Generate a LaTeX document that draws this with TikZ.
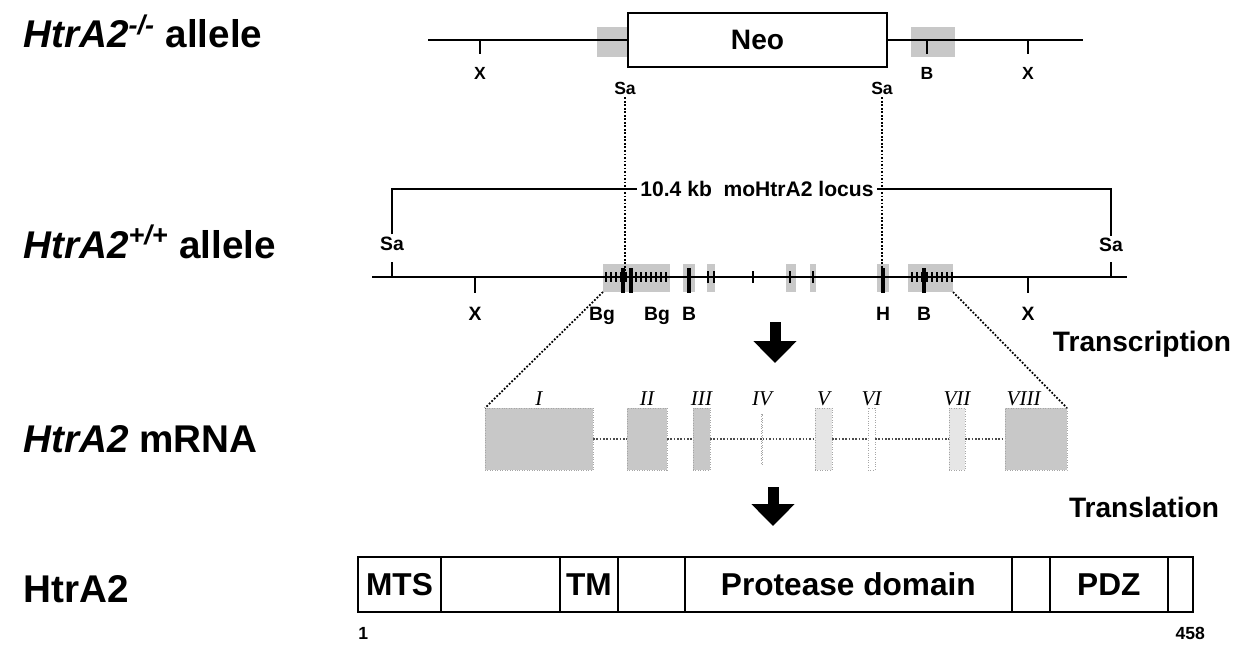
\documentclass[tikz,border=0pt]{standalone}
\usepackage{fontspec}
\setmainfont{Liberation Sans}
\newfontfamily\exonfont{Liberation Serif}
\usetikzlibrary{arrows.meta, positioning}
\definecolor{halftone}{RGB}{200,200,200}

\begin{document}
\begin{tikzpicture}[x=0.02cm, y=-0.02cm,
  rowlbl/.style={font=\fontsize{22}{26}\selectfont\bfseries, anchor=base west, inner sep=0pt},
  steplbl/.style={font=\fontsize{16}{19}\selectfont\bfseries, inner sep=0pt},
  site/.style={font=\fontsize{10}{12}\selectfont\bfseries, inner sep=1pt, anchor=base},
  sitebig/.style={font=\fontsize{11}{13}\selectfont\bfseries, inner sep=1pt, anchor=base},
  dna/.style={line width=1.1pt},
  cut/.style={line width=1pt},
  bar/.style={line width=1.8pt},
  halo/.style={fill=halftone},
  guide/.style={densely dotted, line width=1pt},
  exon/.style={draw=gray!70, densely dotted, fill=halftone, minimum height=1.24cm,
    inner sep=0pt, outer sep=0pt, label distance=3pt},
  faint/.style={exon, fill=halftone!45},
  numeral/.style={font=\exonfont\itshape\fontsize{12}{14}\selectfont, inner sep=1pt},
  intron/.style={densely dotted, line width=0.9pt, gray!60!black},
  dom/.style={draw, line width=1.1pt, minimum height=1.1cm, inner sep=0pt, outer sep=0pt,
    font=\fontsize{18}{21}\selectfont\bfseries},
  flow/.style={-{Triangle[width=0.84cm, length=0.44cm]}, line width=0.22cm}
]
\useasboundingbox (0,0) rectangle (1255,652);

% row labels
\node[rowlbl] (lko)   at (23,48)  {\textit{HtrA2\textsuperscript{-/-}} allele};
\node[rowlbl] (lwt)   at (23,258) {\textit{HtrA2\textsuperscript{+/+}} allele};
\node[rowlbl] (lmrna) at (23,452) {\textit{HtrA2} mRNA};
\node[rowlbl] (lprot) at (23,602) {HtrA2};

% knockout allele
\fill[halo] (597,27) rectangle (628,57);
\fill[halo] (911,27) rectangle (955,57);
\coordinate (koL) at (428,40);
\coordinate (koR) at (1083,40);
\node[draw, line width=1.1pt, fill=white, minimum width=5.18cm, minimum height=1.08cm,
  font=\fontsize{16}{19}\selectfont\bfseries] (neo) at (757.5,40) {Neo};
\draw[dna] (koL) -- (neo.west);
\draw[dna] (neo.east) -- (koR);
\foreach \x/\t/\n in {480/X/kx1, 927/B/kb1, 1028/X/kx2} {
  \draw[cut] (\x,40) -- (\x,54);
  \node[site] (\n) at (\x,80) {\t};
}
\node[site] (ksa1) at (625,95) {Sa};
\node[site] (ksa2) at (882,95) {Sa};

% wild type allele
\node[font=\fontsize{12}{14}\selectfont\bfseries, inner sep=2pt] (locus) at (757,189) {10.4 kb\ \ moHtrA2 locus};
\node[sitebig] (wsa1) at (392,250) {Sa};
\node[sitebig] (wsa2) at (1111,252) {Sa};
\draw[dna] (wsa1.north) |- (locus.west);
\draw[dna] (locus.east) -| (wsa2.north);

\foreach \a/\b in {603/670, 683/695, 707/715, 786/796, 810/816, 877/889, 908/953}
  \fill[halo] (\a,264) rectangle (\b,292);
\coordinate (wtL) at (372,277);
\coordinate (wtR) at (1127,277);
\draw[dna, line width=1.4pt] (wtL) -- (wtR);
\foreach \x in {606,611,...,666} \draw[cut, line width=0.8pt] (\x,272) -- (\x,282);
\foreach \x in {912,917,...,952} \draw[cut, line width=0.8pt] (\x,272) -- (\x,282);
\foreach \x in {708,714,753,790,813} \draw[cut, line width=0.8pt] (\x,271) -- (\x,283);
\draw[cut] (392,262) -- (392,277);
\draw[cut] (1111,262) -- (1111,277);
\foreach \x/\t/\n in {475/X/wx1, 1028/X/wx2} {
  \draw[cut] (\x,277) -- (\x,293);
  \node[sitebig] (\n) at (\x,320) {\t};
}
\foreach \x/\lx/\t/\n in {623/602/Bg/wbg1, 631/657/Bg/wbg2, 689/689/B/wb1, 883/883/H/wh, 924/924/B/wb2} {
  \draw[bar] (\x,268) -- (\x,293);
  \node[sitebig] (\n) at (\lx,320) {\t};
}
\draw[guide] (ksa1.south) -- (ksa1.south |- wtL);
\draw[guide] (ksa2.south) -- (ksa2.south |- wtL);

% transcription
\coordinate (txa) at (775,322);
\coordinate (txb) at (775,363);
\draw[flow] (txa) -- (txb);
\node[steplbl] (tx) at (1142,344) {Transcription};

% mRNA
\node[exon, minimum width=2.16cm, label={[numeral]above:I}]    (e1) at (539,439) {};
\node[exon, minimum width=0.8cm,  label={[numeral]above:II}]   (e2) at (647,439) {};
\node[exon, minimum width=0.34cm, label={[numeral]above:III}]  (e3) at (701.5,439) {};
\node[exon, fill=none, minimum width=0.02cm, minimum height=1.0cm,
  label={[numeral, yshift=3.4pt]above:IV}]                     (e4) at (762,439) {};
\node[faint, minimum width=0.34cm, label={[numeral]above:V}]   (e5) at (823.5,439) {};
\node[faint, fill=none, minimum width=0.14cm, label={[numeral]above:VI}] (e6) at (871.5,439) {};
\node[faint, minimum width=0.32cm, label={[numeral]above:VII}] (e7) at (957,439) {};
\node[exon, minimum width=1.24cm, label={[numeral, xshift=-7pt]above:VIII}] (e8) at (1036,439) {};
\foreach \a/\b in {e1/e2, e2/e3, e3/e4, e4/e5, e5/e6, e6/e7, e7/e8}
  \draw[intron] (\a) -- (\b);
\coordinate (gl) at (603,292);
\coordinate (gr) at (953,292);
\draw[guide] (gl) -- (e1.north west);
\draw[guide] (gr) -- (e8.north east);

% translation
\coordinate (tla) at (773,487);
\coordinate (tlb) at (773,526);
\draw[flow] (tla) -- (tlb);
\node[steplbl] (tl) at (1144,507) {Translation};

% protein
\node[dom, minimum width=1.66cm] (mts) at (399.5,584.5) {MTS};
\node[dom, minimum width=2.38cm, right=0pt of mts]   (link1) {};
\node[dom, minimum width=1.16cm, right=0pt of link1] (tm) {TM};
\node[dom, minimum width=1.34cm, right=0pt of tm]    (link2) {};
\node[dom, minimum width=6.54cm, right=0pt of link2] (prot) {Protease domain};
\node[dom, minimum width=0.76cm, right=0pt of prot]  (link3) {};
\node[dom, minimum width=2.36cm, right=0pt of link3] (pdz) {PDZ};
\node[dom, minimum width=0.5cm,  right=0pt of pdz]   (cterm) {};
\node[font=\fontsize{10}{12}\selectfont\bfseries, anchor=north west, inner sep=0pt]
  (aa1) at ([yshift=-0.3cm]mts.south west) {1};
\node[font=\fontsize{10}{12}\selectfont\bfseries, anchor=north, inner sep=0pt]
  (aa458) at ([xshift=0.2cm, yshift=-0.3cm]cterm.south) {458};
\end{tikzpicture}
\end{document}
